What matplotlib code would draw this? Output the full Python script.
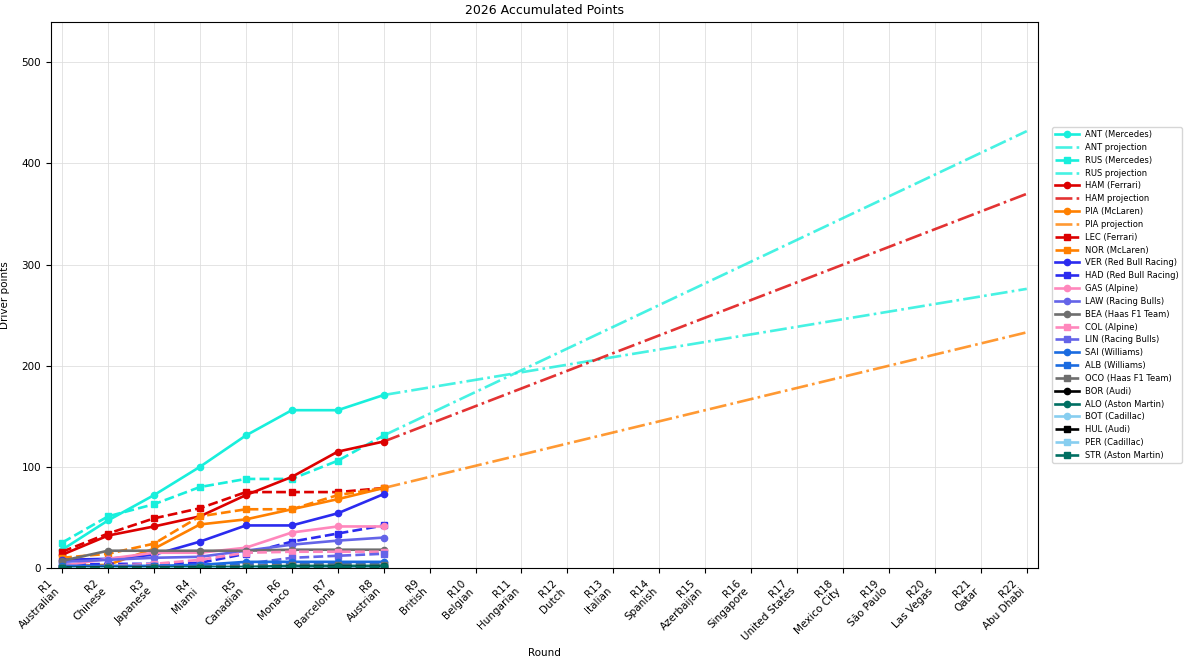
import matplotlib
matplotlib.use("Agg")
import matplotlib.pyplot as plt

rounds = ["R1\nAustralian", "R2\nChinese", "R3\nJapanese", "R4\nMiami", "R5\nCanadian",
          "R6\nMonaco", "R7\nBarcelona", "R8\nAustrian", "R9\nBritish", "R10\nBelgian",
          "R11\nHungarian", "R12\nDutch", "R13\nItalian", "R14\nSpanish", "R15\nAzerbaijan",
          "R16\nSingapore", "R17\nUnited States", "R18\nMexico City", "R19\nSão Paulo",
          "R20\nLas Vegas", "R21\nQatar", "R22\nAbu Dhabi"]

ANT = [18, 47, 72, 100, 131, 156, 156, 171]
RUS = [25, 51, 63, 80, 88, 88, 106, 131]
HAM = [13, 32, 41, 51, 72, 90, 115, 125]
PIA = [2, 3, 19, 43, 48, 58, 68, 79]
LEC = [16, 34, 49, 59, 75, 75, 75, 79]
NOR = [10, 14, 24, 51, 58, 58, 72, 79]
VER = [8, 9, 13, 26, 42, 42, 54, 73]
HAD = [3, 4, 4, 5, 14, 26, 34, 42]
GAS = [2, 9, 15, 15, 20, 35, 41, 41]
LAW = [6, 8, 10, 11, 17, 23, 27, 30]
BEA = [7, 17, 17, 17, 17, 18, 18, 18]
COL = [0, 2, 4, 8, 15, 16, 16, 16]
LIN = [0, 1, 2, 3, 4, 10, 12, 14]
SAI = [2, 2, 2, 3, 6, 6, 6, 6]
ALB = [1, 1, 2, 2, 3, 4, 4, 4]
OCO = [0, 1, 1, 1, 2, 3, 3, 3]
BOR = [0, 0, 0, 0, 0, 1, 1, 1]
ALO = [0, 0, 0, 1, 1, 2, 2, 2]
BOT = [0, 0, 0, 0, 0, 0, 0, 0]
HUL = [0, 0, 0, 0, 0, 1, 1, 1]
PER = [0, 0, 0, 0, 0, 0, 0, 0]
STR = [0, 0, 0, 0, 0, 1, 1, 1]

# projection: value at last completed round -> value at final round
ANT_proj = [171, 276]
RUS_proj = [131, 432]
HAM_proj = [125, 370]
PIA_proj = [79, 233]

c_merc = "#18efdc"
c_fer = "#dc0000"
c_mcl = "#ff8000"
c_rb = "#2b2bef"
c_alp = "#ff87bc"
c_rcb = "#6464e8"
c_haas = "#6e6e6e"
c_wil = "#1a6be0"
c_audi = "#000000"
c_am = "#006f62"
c_cad = "#87cef0"

drivers = [
    ("ANT (Mercedes)", ANT, c_merc, "solid", ANT_proj, "ANT projection"),
    ("RUS (Mercedes)", RUS, c_merc, "dashed", RUS_proj, "RUS projection"),
    ("HAM (Ferrari)", HAM, c_fer, "solid", HAM_proj, "HAM projection"),
    ("PIA (McLaren)", PIA, c_mcl, "solid", PIA_proj, "PIA projection"),
    ("LEC (Ferrari)", LEC, c_fer, "dashed", None, None),
    ("NOR (McLaren)", NOR, c_mcl, "dashed", None, None),
    ("VER (Red Bull Racing)", VER, c_rb, "solid", None, None),
    ("HAD (Red Bull Racing)", HAD, c_rb, "dashed", None, None),
    ("GAS (Alpine)", GAS, c_alp, "solid", None, None),
    ("LAW (Racing Bulls)", LAW, c_rcb, "solid", None, None),
    ("BEA (Haas F1 Team)", BEA, c_haas, "solid", None, None),
    ("COL (Alpine)", COL, c_alp, "dashed", None, None),
    ("LIN (Racing Bulls)", LIN, c_rcb, "dashed", None, None),
    ("SAI (Williams)", SAI, c_wil, "solid", None, None),
    ("ALB (Williams)", ALB, c_wil, "dashed", None, None),
    ("OCO (Haas F1 Team)", OCO, c_haas, "dashed", None, None),
    ("BOR (Audi)", BOR, c_audi, "solid", None, None),
    ("ALO (Aston Martin)", ALO, c_am, "solid", None, None),
    ("BOT (Cadillac)", BOT, c_cad, "solid", None, None),
    ("HUL (Audi)", HUL, c_audi, "dashed", None, None),
    ("PER (Cadillac)", PER, c_cad, "dashed", None, None),
    ("STR (Aston Martin)", STR, c_am, "dashed", None, None),
]

fig = plt.figure(figsize=(11.92, 6.65), dpi=100)
ax = fig.add_axes([0.0425, 0.146, 0.8285, 0.821])

n_done = len(ANT)
x_done = list(range(n_done))
x_proj = [n_done - 1, len(rounds) - 1]

for label, vals, color, style, proj, plabel in drivers:
    marker = "o" if style == "solid" else "s"
    ls = "-" if style == "solid" else "--"
    ax.plot(x_done, vals, color=color, linestyle=ls, marker=marker,
            markersize=4.5 if marker == "o" else 5, linewidth=1.9, label=label)
    if proj is not None:
        ax.plot(x_proj, proj, color=color, linestyle="-.", linewidth=1.9,
                alpha=0.8, label=plabel)

ax.set_xlim(-0.25, len(rounds) - 1 + 0.25)
ax.set_ylim(0, 540)
ax.set_xticks(range(len(rounds)))
ax.set_xticklabels(rounds, rotation=45, ha="right", fontsize=7.5)
ax.set_yticks([0, 100, 200, 300, 400, 500])
ax.tick_params(axis="y", labelsize=7.5)
ax.grid(True, color="#dddddd", linewidth=0.7, alpha=0.8)
ax.set_axisbelow(True)
ax.set_title("2026 Accumulated Points", fontsize=9)
ax.set_xlabel("Round", fontsize=7.5)
ax.set_ylabel("Driver points", fontsize=7.5, labelpad=8)
ax.legend(loc="center left", bbox_to_anchor=(1.01, 0.5), fontsize=6, labelspacing=0.46,
          handlelength=2.8, borderpad=0.35, frameon=True)

fig.savefig("out.png", dpi=100)
